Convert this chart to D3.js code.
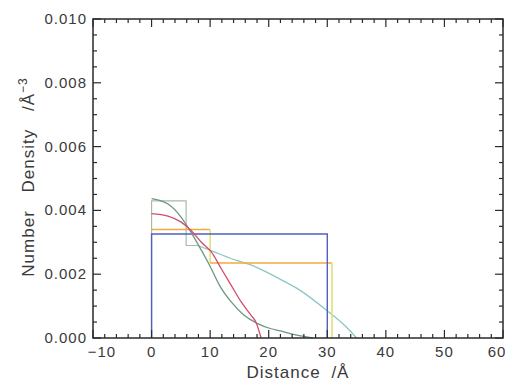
<!DOCTYPE html>
<html><head><meta charset="utf-8">
<script src="https://cdn.jsdelivr.net/npm/d3@7"></script>
<style>
html,body{margin:0;padding:0;background:#fff;}
text{font-family:"Liberation Sans",Arial,sans-serif;fill:#3a3a3a;}
</style></head>
<body><svg id="c" width="513" height="389"></svg>
<script>
// ---- data ----
const xTicks = [-10, 0, 10, 20, 30, 40, 50, 60];
const yTicks = [0.000, 0.002, 0.004, 0.006, 0.008, 0.010];
const yTickLabels = ["0.000", "0.002", "0.004", "0.006", "0.008", "0.010"];

const blueX = [0, 0, 30, 30];
const blueY = [0, 0.00326, 0.00326, 0];

const orangeX = [0, 10, 10, 30.8, 30.8];
const orangeY = [0.0034, 0.0034, 0.00235, 0.00235, 0];

const greyStepX = [0, 0, 5.9, 5.9, 7.9];
const greyStepY = [0, 0.0043, 0.0043, 0.0029, 0.0029];

const cyanX = [7.9, 10.7, 14.5, 16.8, 22.4, 25.3, 29.8, 33.2, 35];
const cyanY = [0.0029, 0.0027, 0.00243, 0.0023, 0.0018, 0.0015, 0.00088, 0.00035, 0];

const redX = [0, 2.8, 5, 6.7, 8.5, 10.2, 11.9, 13.6, 15.3, 17, 17.8, 18.7];
const redY = [0.0039, 0.00382, 0.00364, 0.00338, 0.003, 0.0027, 0.00217, 0.00165, 0.00113, 0.00071, 0.0005, 0];

const greenX = [0, 2.8, 5, 6.5, 8.2, 9.9, 11.6, 13.6, 15.8, 18.1, 20.4, 22, 24, 26, 27.5];
const greenY = [0.00437, 0.0042, 0.0038, 0.00338, 0.00285, 0.00228, 0.00165, 0.00113, 0.00071, 0.00045, 0.00029, 0.00022, 0.00012, 0.00005, 0];

// ---- layout ----
const svg = d3.select("#c");
const L = 93, T = 19, R = 503, B = 338;
const x = d3.scaleLinear().domain([-10, 60]).range([L, R]);
const y = d3.scaleLinear().domain([0, 0.010]).range([B, T]);
const axisCol = "#2a2a2a";

const zip = (xs, ys) => xs.map((v, i) => [v, ys[i]]);
const lineLin = d3.line().x(d => x(d[0])).y(d => y(d[1]));
const lineSm = d3.line().x(d => x(d[0])).y(d => y(d[1])).curve(d3.curveMonotoneX);

const g = svg.append("g");

// steps
g.append("path").attr("d", lineLin(zip(greyStepX, greyStepY)))
  .attr("fill", "none").attr("stroke", "#a9b9a9").attr("stroke-width", 1.2);
g.append("path").attr("d", lineSm(zip(cyanX, cyanY)))
  .attr("fill", "none").attr("stroke", "#8ec6c6").attr("stroke-width", 1.3);
// orange step: horizontals orange, verticals pale yellow
const oPts = zip(orangeX, orangeY);
for (let i = 1; i < oPts.length; i++) {
  const a = oPts[i - 1], b = oPts[i];
  const vert = a[0] === b[0];
  g.append("path").attr("d", lineLin([a, b]))
    .attr("fill", "none").attr("stroke", vert ? "#dfe27a" : "#f2aa3c").attr("stroke-width", 1.6);
}
g.append("path").attr("d", lineLin(zip(blueX, blueY)))
  .attr("fill", "none").attr("stroke", "#4f5fc4").attr("stroke-width", 1.4);
g.append("path").attr("d", lineSm(zip(greenX, greenY)))
  .attr("fill", "none").attr("stroke", "#6e9680").attr("stroke-width", 1.3);
g.append("path").attr("d", lineSm(zip(redX, redY)))
  .attr("fill", "none").attr("stroke", "#d44c6c").attr("stroke-width", 1.3);

// frame
svg.append("rect").attr("x", L).attr("y", T).attr("width", R - L).attr("height", B - T)
  .attr("fill", "none").attr("stroke", axisCol).attr("stroke-width", 1.5);

// ticks (inward, mirrored)
const xMinor = d3.range(-10, 60.001, 2);
const yMinor = d3.range(0, 0.01001, 0.0005);
const tk = svg.append("g").attr("stroke", axisCol).attr("stroke-width", 1.2);
xMinor.forEach(v => {
  const major = Math.abs(Math.round(v / 10) * 10 - v) < 1e-6;
  const len = major ? 8 : 4;
  tk.append("line").attr("x1", x(v)).attr("x2", x(v)).attr("y1", B).attr("y2", B - len);
  tk.append("line").attr("x1", x(v)).attr("x2", x(v)).attr("y1", T).attr("y2", T + len);
});
yMinor.forEach(v => {
  const major = Math.abs(Math.round(v / 0.002) * 0.002 - v) < 1e-9;
  const len = major ? 8 : 4;
  tk.append("line").attr("x1", L).attr("x2", L + len).attr("y1", y(v)).attr("y2", y(v));
  tk.append("line").attr("x1", R).attr("x2", R - len).attr("y1", y(v)).attr("y2", y(v));
});

// tick labels
const xOff = {"-10": 9, "60": -6};
xTicks.forEach(v => {
  svg.append("text").attr("x", x(v) + (xOff[v] || 0)).attr("y", B + 19)
    .attr("text-anchor", "middle").attr("font-size", 15).attr("letter-spacing", 1)
    .text(v < 0 ? "\u2212" + Math.abs(v) : v);
});
yTicks.forEach((v, i) => {
  svg.append("text").attr("x", L - 6).attr("y", y(v) + 5)
    .attr("text-anchor", "end").attr("font-size", 15).attr("letter-spacing", 1)
    .text(yTickLabels[i]);
});

// axis titles
svg.append("text").attr("x", (L + R) / 2 + 0).attr("y", 378)
  .attr("text-anchor", "middle").attr("font-size", 17).attr("letter-spacing", 1)
  .attr("word-spacing", 5)
  .text("Distance /Å");

const yt = svg.append("text").attr("transform", "translate(34,177) rotate(-90)")
  .attr("text-anchor", "middle").attr("font-size", 17).attr("letter-spacing", 1)
  .attr("word-spacing", 12);
yt.append("tspan").text("Number Density /Å");
yt.append("tspan").attr("dy", -7).attr("font-size", 12).text("\u22123");
</script></body></html>
